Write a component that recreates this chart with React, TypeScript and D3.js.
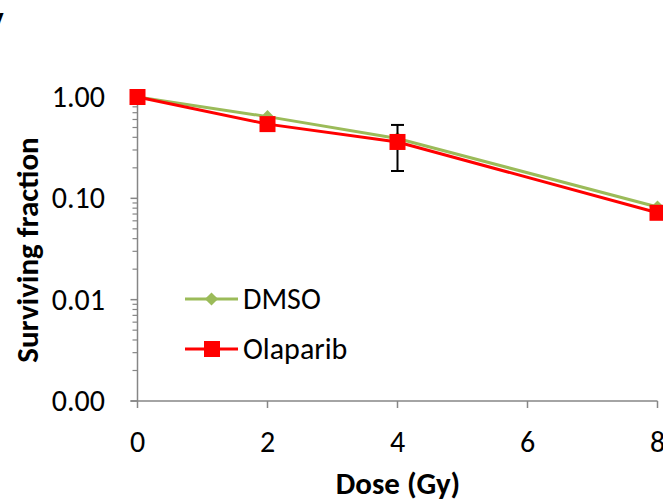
import React, { useEffect, useRef } from 'react';
import * as d3 from 'd3';

const doses = [0, 2, 4, 8];
const dmso = [1.0, 0.64, 0.39, 0.082];
const olaparib = [1.0, 0.54, 0.36, 0.072];
// error bar on Olaparib at 4 Gy only
const olaErrDose = [4];
const olaErrLow = [0.186];
const olaErrHigh = [0.53];
const xTicks = [0, 2, 4, 6, 8];
const yTicks = [1, 0.1, 0.01, 0.001];
const yTickLabels = ['1.00', '0.10', '0.01', '0.00'];

const GREEN = '#9BBB59';
const RED = '#FF0000';
const AXIS = '#868686';
const FONT = 'Carlito, Calibri, "Open Sans", sans-serif';

export default function App() {
  const svgRef = useRef<SVGSVGElement>(null);

  useEffect(() => {
    const svg = d3.select(svgRef.current);
    svg.selectAll('*').remove();

    const x = d3.scaleLinear().domain([0, 8]).range([137.5, 657.5]);
    const y = d3.scaleLog().domain([0.001, 1]).range([401, 97]);

    // panel letter, cut off at the edge
    svg.append('text').attr('x', -13).attr('y', 31).attr('font-family', FONT)
      .attr('font-weight', 'bold').attr('font-size', 28).text('V');

    // y axis line + ticks
    const g = svg.append('g');
    g.append('line').attr('x1', x(0)).attr('x2', x(0)).attr('y1', y(1)).attr('y2', y(0.001))
      .attr('stroke', AXIS).attr('stroke-width', 1.5);
    for (let e = -3; e < 0; e++) {
      for (let m = 2; m <= 9; m++) {
        const v = m * Math.pow(10, e);
        g.append('line').attr('x1', x(0) - 5).attr('x2', x(0)).attr('y1', y(v)).attr('y2', y(v))
          .attr('stroke', AXIS).attr('stroke-width', 1.2);
      }
    }
    yTicks.forEach((t, i) => {
      g.append('line').attr('x1', x(0) - 7).attr('x2', x(0)).attr('y1', y(t)).attr('y2', y(t))
        .attr('stroke', AXIS).attr('stroke-width', 1.5);
      g.append('text').attr('x', 105).attr('y', y(t)).attr('dy', '0.33em')
        .attr('text-anchor', 'end').attr('font-family', FONT).attr('font-size', 30)
        .attr('fill', '#000').text(yTickLabels[i]);
    });

    // x axis
    g.append('line').attr('x1', x(0) - 7).attr('x2', x(8)).attr('y1', y(0.001)).attr('y2', y(0.001))
      .attr('stroke', AXIS).attr('stroke-width', 1.5);
    xTicks.forEach(t => {
      g.append('line').attr('x1', x(t)).attr('x2', x(t)).attr('y1', y(0.001)).attr('y2', y(0.001) + 7)
        .attr('stroke', AXIS).attr('stroke-width', 1.5);
      g.append('text').attr('x', x(t)).attr('y', 452).attr('text-anchor', 'middle')
        .attr('font-family', FONT).attr('font-size', 30).attr('fill', '#000').text(String(t));
    });

    // axis titles
    svg.append('text').attr('x', 398).attr('y', 494).attr('text-anchor', 'middle')
      .attr('font-family', FONT).attr('font-weight', 'bold').attr('font-size', 31).text('Dose (Gy)');
    svg.append('text').attr('transform', 'translate(38,250) rotate(-90)').attr('text-anchor', 'middle')
      .attr('font-family', FONT).attr('font-weight', 'bold').attr('font-size', 31).text('Surviving fraction');

    const line = d3.line<number>().x((d, i) => x(doses[i])).y(d => y(d));

    // DMSO
    svg.append('path').datum(dmso).attr('d', line).attr('fill', 'none')
      .attr('stroke', GREEN).attr('stroke-width', 3);
    const diamond = d3.symbol().type(d3.symbolDiamond2).size(110);
    svg.selectAll('.dm').data(dmso).join('path').attr('class', 'dm')
      .attr('d', diamond).attr('fill', GREEN)
      .attr('transform', (d, i) => `translate(${x(doses[i])},${y(d)})`);

    // Olaparib error bar
    olaErrDose.forEach((dd, i) => {
      const cx = x(dd);
      svg.append('line').attr('x1', cx).attr('x2', cx).attr('y1', y(olaErrHigh[i])).attr('y2', y(olaErrLow[i]))
        .attr('stroke', '#000').attr('stroke-width', 2);
      [olaErrHigh[i], olaErrLow[i]].forEach(v => {
        svg.append('line').attr('x1', cx - 6.5).attr('x2', cx + 6.5).attr('y1', y(v)).attr('y2', y(v))
          .attr('stroke', '#000').attr('stroke-width', 2);
      });
    });

    // Olaparib
    svg.append('path').datum(olaparib).attr('d', line).attr('fill', 'none')
      .attr('stroke', RED).attr('stroke-width', 3);
    svg.selectAll('.ol').data(olaparib).join('rect').attr('class', 'ol')
      .attr('x', (d, i) => x(doses[i]) - 8).attr('y', d => y(d) - 8)
      .attr('width', 16).attr('height', 16).attr('fill', RED);

    // legend
    const leg = [
      { name: 'DMSO', color: GREEN, yy: 299, kind: 'diamond' },
      { name: 'Olaparib', color: RED, yy: 349, kind: 'square' },
    ];
    leg.forEach(l => {
      svg.append('line').attr('x1', 185).attr('x2', 238).attr('y1', l.yy).attr('y2', l.yy)
        .attr('stroke', l.color).attr('stroke-width', 3);
      if (l.kind === 'diamond') {
        svg.append('path').attr('d', diamond).attr('fill', l.color)
          .attr('transform', `translate(211.5,${l.yy})`);
      } else {
        svg.append('rect').attr('x', 204).attr('y', l.yy - 8).attr('width', 16).attr('height', 16)
          .attr('fill', l.color);
      }
      svg.append('text').attr('x', 243).attr('y', l.yy).attr('dy', '0.33em')
        .attr('font-family', FONT).attr('font-size', 30).text(l.name);
    });
  }, []);

  return (
    <svg ref={svgRef} width={663} height={502}
      style={{ position: 'fixed', left: 0, top: 0, background: '#fff' }} />
  );
}
